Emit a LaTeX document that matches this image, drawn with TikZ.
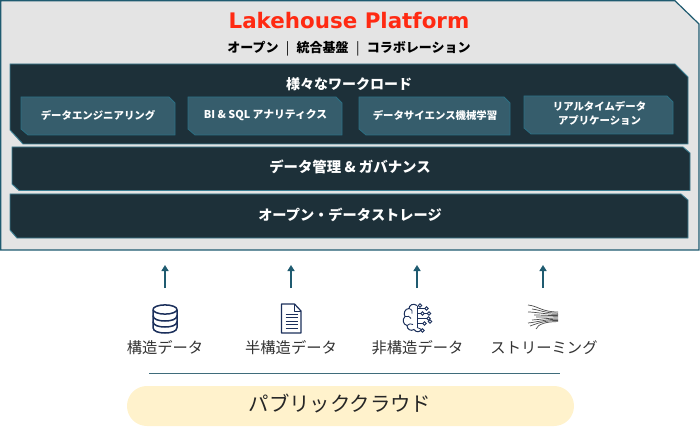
\documentclass[tikz,border=0pt]{standalone}
\usepackage{fontspec}
\setmainfont{Noto Sans CJK JP}
\newfontfamily\latinbold[BoldFont=DejaVu Sans Bold]{DejaVu Sans}
\usetikzlibrary{arrows.meta}
\definecolor{edgeteal}{HTML}{1F5B70}
\definecolor{panelgray}{HTML}{E4E4E4}
\definecolor{paneldark}{HTML}{1D3039}
\definecolor{panelline}{HTML}{3E8094}
\definecolor{subbox}{HTML}{365D6C}
\definecolor{subline}{HTML}{2B6F83}
\definecolor{navyicon}{HTML}{1B2F5B}
\definecolor{pillfill}{HTML}{FFF2CC}
\definecolor{ruleteal}{HTML}{3F6C7B}
\definecolor{titlered}{HTML}{FF2A12}
\definecolor{srctext}{HTML}{333333}
\tikzset{
  x=1pt,y=-1pt,
  darkpanel/.style={fill=paneldark,draw=panelline,line width=0.9pt},
  subpanel/.style={fill=subbox,draw=subline,line width=0.8pt},
  paneltext/.style={text=white,font=\fontsize{14.2}{16}\selectfont\bfseries,inner sep=0pt},
  subtext/.style={text=white,font=\fontsize{10.4}{13.5}\selectfont\bfseries,inner sep=0pt,align=center},
  srclabel/.style={text=srctext,font=\fontsize{15.3}{17}\selectfont,inner sep=0pt},
  uparrow/.style={draw=edgeteal,line width=1.6pt,-{Triangle[length=6pt,width=7pt]}},
  icon/.style={draw=navyicon,line width=1.5pt,line join=round},
  thinicon/.style={draw=navyicon,line width=0.8pt},
  streamline/.style={draw=black!70,line width=0.7pt},
}
\begin{document}
\begin{tikzpicture}
\useasboundingbox (0,0) rectangle (700,430);
% outer panel
\draw[fill=panelgray,draw=edgeteal,line width=1.2pt] (0.8,0.8) -- (675,0.8) -- (699,24) -- (699,250) -- (0.8,250) -- cycle;
\node[inner sep=0pt,text=titlered,font=\latinbold\fontsize{21.4}{24}\selectfont\bfseries] (title) at (349,21) {Lakehouse Platform};
\node[inner sep=0pt,text=black,font=\fontsize{13}{15}\selectfont\bfseries] (subtitle) at (349,49) {オープン\,\, {\mdseries |}\,\, 統合基盤\,\, {\mdseries |}\,\, コラボレーション};
% large panels
\draw[darkpanel] (10,64) -- (675,64) -- (688,77) -- (688,144) -- (23,144) -- (10,130) -- cycle;
\draw[darkpanel] (12,147) -- (683,147) -- (690,153) -- (690,190.5) -- (19,190.5) -- (12,184) -- cycle;
\draw[darkpanel] (10,194) -- (681,194) -- (688,200) -- (688,238) -- (17,238) -- (10,230) -- cycle;
\node[paneltext,font=\fontsize{14}{16}\selectfont\bfseries] (workload) at (349,84.5) {様々なワークロード};
\node[paneltext,font=\fontsize{14.4}{16}\selectfont\bfseries] (gov) at (350,167) {データ管理 \& ガバナンス};
\node[paneltext,font=\fontsize{14.2}{16}\selectfont\bfseries] (storage) at (350,215) {オープン・データストレージ};
% sub boxes
\draw[subpanel] (21,97) -- (169,97) -- (175,103) -- (175,135) -- (28,135) -- (21,129) -- cycle;
\draw[subpanel] (188,97) -- (336,97) -- (342,103) -- (342,135) -- (195,135) -- (188,129) -- cycle;
\draw[subpanel] (359,97) -- (504,97) -- (510,103) -- (510,135) -- (366,135) -- (359,129) -- cycle;
\draw[subpanel] (524,96) -- (667,96) -- (673,102) -- (673,134) -- (531,134) -- (524,128) -- cycle;
\node[subtext] (sub1) at (98,115) {データエンジニアリング};
\node[subtext,font=\fontsize{10.8}{13.5}\selectfont\bfseries] (sub2) at (265.5,115) {BI \& SQL アナリティクス};
\node[subtext] (sub3) at (435,115.5) {データサイエンス機械学習};
\node[subtext] (sub4) at (599.5,113.5) {リアルタイムデータ\\アプリケーション};
% source labels
\node[srclabel] (src1) at (165,347.5) {構造データ};
\node[srclabel] (src2) at (291,347.5) {半構造データ};
\node[srclabel] (src3) at (417.5,347.5) {非構造データ};
\node[srclabel] (src4) at (544,347.5) {ストリーミング};
% arrows
\coordinate (a1) at (165,288); \coordinate (b1) at (165,265);
\coordinate (a2) at (291,288); \coordinate (b2) at (291,265);
\coordinate (a3) at (417,288); \coordinate (b3) at (417,265);
\coordinate (a4) at (543,288); \coordinate (b4) at (543,265);
\draw[uparrow] (a1) -- (b1);
\draw[uparrow] (a2) -- (b2);
\draw[uparrow] (a3) -- (b3);
\draw[uparrow] (a4) -- (b4);
% database icon
\begin{scope}[shift={(165,304.5)}]
\draw[icon] (-12,5) arc[start angle=180,end angle=-180,x radius=12,y radius=4.6];
\draw[icon] (-12,5) -- (-12,23) .. controls (-12,27) and (-6,28.5) .. (0,28.5) .. controls (6,28.5) and (12,27) .. (12,23) -- (12,5);
\draw[icon] (-12,11) .. controls (-12,15) and (-6,16.5) .. (0,16.5) .. controls (6,16.5) and (12,15) .. (12,11);
\draw[icon] (-12,17) .. controls (-12,21) and (-6,22.5) .. (0,22.5) .. controls (6,22.5) and (12,21) .. (12,17);
\end{scope}
% document icon
\begin{scope}[shift={(281.5,304)}]
\draw[icon,line width=1.2pt] (0,0) -- (13,0) -- (19.5,7) -- (19.5,29) -- (0,29) -- cycle;
\draw[icon,line width=0.9pt] (13,0) -- (13,7) -- (19.5,7);
\foreach \yy in {10,13.5,17,20.5,24} \draw[thinicon,line width=0.9pt] (4,\yy) -- (16,\yy);
\end{scope}
% brain icon
\begin{scope}[shift={(417,318.5)}]
\draw[thinicon,line width=1pt,fill=none] (0,-13) .. controls (-4,-16) and (-8,-13) .. (-8,-10) .. controls (-12,-10) and (-14,-5) .. (-12,-2) .. controls (-15,1) and (-14,6) .. (-10,7) .. controls (-10,11) and (-6,13) .. (-3,11) .. controls (-1,14) and (3,14) .. (4,11);
\draw[thinicon] (-8,-10) .. controls (-5,-9) and (-4,-7) .. (-5,-5);
\draw[thinicon] (-12,-2) .. controls (-9,-3) and (-7,-2) .. (-6,0);
\draw[thinicon] (-10,7) .. controls (-8,5) and (-6,5) .. (-4,6);
\draw[thinicon] (0,-13) -- (0,9);
\foreach \xa/\ya/\xb/\yb in {0/-10/8/-10,0/-5/4/-5,0/0/10/0,0/5/6/5,0/9/5/11}
  \draw[thinicon] (\xa,\ya) -- (\xb,\yb);
\foreach \cx/\cy in {3/-13,9.5/-10,5.5/-5,12/-5,11.5/0,7.5/5,13/3,5.5/12}
  \draw[thinicon,fill=white] (\cx,\cy) circle[radius=1.7];
\draw[thinicon] (7.2,-5) -- (10.3,-5);
\end{scope}
% streaming icon
\begin{scope}[shift={(528,305)}]
\draw[streamline] (0,0) .. controls (10,1) and (14,7) .. (30,7);
\draw[streamline] (4,4) .. controls (12,5) and (16,8) .. (30,8.2);
\draw[streamline] (0,7) .. controls (8,7) and (18,9.4) .. (30,9.4);
\draw[streamline] (6,10) .. controls (14,10) and (20,10.6) .. (30,10.6);
\draw[streamline] (8,12) -- (30,11.8);
\draw[streamline] (4,15) .. controls (12,14.5) and (20,13) .. (30,13);
\draw[streamline] (0,18) .. controls (10,17) and (18,14.2) .. (30,14.2);
\draw[streamline] (2,21) .. controls (10,18) and (18,15.4) .. (30,15.4);
\draw[streamline] (8,24) .. controls (10,19) and (18,16.6) .. (30,16.6);
\end{scope}
% bottom
\coordinate (ruleL) at (149,373.5); \coordinate (ruleR) at (560,373.5);
\draw[draw=ruleteal,line width=1.5pt] (ruleL) -- (ruleR);
\fill[pillfill,rounded corners=19.9pt] (127,386) rectangle (574,426);
\node[inner sep=0pt,text=black!85,font=\fontsize{20.4}{23}\selectfont] (cloud) at (340,403.5) {パブリッククラウド};
\end{tikzpicture}
\end{document}
